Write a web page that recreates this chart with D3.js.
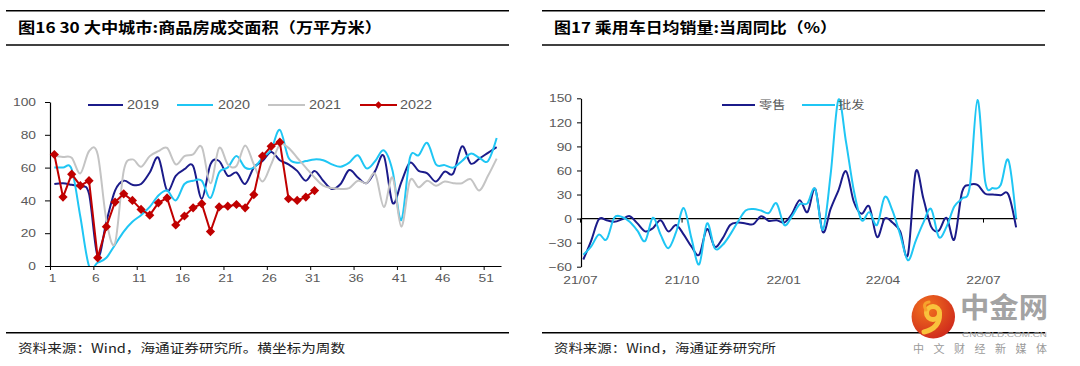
<!DOCTYPE html>
<html><head><meta charset="utf-8">
<script src="https://cdn.jsdelivr.net/npm/d3@7"></script>
<style>
body{margin:0;background:#fff;}
svg{display:block;}
</style></head><body>
<svg id="c" width="1080" height="366"></svg>
<script>
// ---------- DATA: left chart (weeks) ----------
const weeks = d3.range(1, 53);
const s2019 = [50,50.5,49.5,48.5,44,6,27,46,52,49.5,50,57,66,46,55,59,61,41,62,64,55,57,50,60,64,69.5,64.5,62,58,52,58,52,47,50,58.5,54,50.5,58,67,38.5,51,63,58,56.5,51.5,57.5,56.5,73,62.5,65.5,69,72.5];
const s2020 = [60,60,59,30,0,2,5,13,21,27,31,36,43,46,40,50,52,52,41.5,57,60,67,60,60,66,71,83,66,63,64,65,64.5,62,60.5,63,67.5,59.5,64,70.5,58,28,66,67.5,75,62,61.5,60,64,68.5,66,64,78];
const s2021 = [67,66.5,66,56.5,70,68,28,14,58,65,60.5,67,70,72,62,67,68,72.5,50.5,72,62,61,73.5,62,51.5,62,74,72,66,60,54,49,47.5,47,47.5,52,50.5,56,36,54,24,52,48,52,49,51.5,50.5,50.5,53,46,55,65.5];
const s2022 = [68,42,56,49,52,5,24,39,44,40,34.5,31,38.5,41.5,25,30.5,35.5,38,21,36,36.5,37.5,35.5,43.5,67,73,75.5,41,40,42,46];
const seriesNamesL = ["2019","2020","2021","2022"];
const colorsL = ["#1b1b8a","#1fc6f4","#c4c4c4","#c00000"];
const yTicksL = [0,20,40,60,80,100];
const xTickWeeks = [1,6,11,16,21,26,31,36,41,46,51];

// ---------- DATA: right chart (weekly YoY %) ----------
const firstDate = "2021-07-04";
const retail = [-51,-28,-1,-2,-4,-1,3,-6,-16,-12,-2,-16,-8,-20,-35,-45,-13,-35,-25,-8,-5,-6,-7,3,-3,-2,-5,6,23,8,37,-17,12,35,59,21,6,15,-23,0,-5,-16,-45,58,25,-10,-15,1,-26,33,42,42,31,30,29,30,-11];
const wholesale = [-45,-35,-20,-26,1,2,-4,-15,-28,1,-20,-37,-17,13,-25,-57,-6,-37,-33,-20,-4,10,12,10,7,19,-8,3,18,19,37,-14,55,148,95,35,-2,8,-8,27,10,-20,-52,-28,-5,12,-23,-10,15,25,40,148,46,38,42,73,0];
const seriesNamesR = ["零售","批发"];
const colorsR = ["#1b1b8a","#1fc6f4"];
const yTicksR = [-60,-30,0,30,60,90,120,150];
const xTickDatesR = ["2021-07-01","2021-10-01","2022-01-01","2022-04-01","2022-07-01"];

const svg = d3.select("#c");
const SX = 1.2; // horizontal text stretch
const tickFont = "'Liberation Sans', Arial, sans-serif";
const cjk = "'Noto Sans CJK SC', sans-serif";

function stretchText(sel, x, y){
  sel.attr("transform", `translate(${x},${y}) scale(${SX},1)`);
}

// ---------- frames: titles & sources ----------
function frame(x0, x1, title, titleLen, source, sourceLen){
  svg.append("line").attr("x1",x0).attr("x2",x1).attr("y1",10.7).attr("y2",10.7).attr("stroke","#000").attr("stroke-width",1.6);
  svg.append("line").attr("x1",x0).attr("x2",x1).attr("y1",45).attr("y2",45).attr("stroke","#000").attr("stroke-width",1.6);
  svg.append("line").attr("x1",x0).attr("x2",x1).attr("y1",332.7).attr("y2",332.7).attr("stroke","#000").attr("stroke-width",1.6);
  svg.append("text").attr("x",x0+12).attr("y",33).attr("font-family",cjk).attr("font-weight","bold")
    .attr("font-size",14.5).attr("fill","#000").attr("textLength",titleLen).attr("lengthAdjust","spacingAndGlyphs").text(title);
  svg.append("text").attr("x",x0+12).attr("y",353).attr("font-family",cjk)
    .attr("font-size",12.5).attr("fill","#222").attr("textLength",sourceLen).attr("lengthAdjust","spacingAndGlyphs").text(source);
}
frame(6, 509, "图16 30 大中城市:商品房成交面积（万平方米）", 364, "资料来源：Wind，海通证券研究所。横坐标为周数", 327);
frame(542, 1045, "图17 乘用车日均销量:当周同比（%）", 283, "资料来源：Wind，海通证券研究所", 222);

// ---------- LEFT CHART ----------
const xL = d3.scaleLinear().domain([0.5, 52.5]).range([50, 501]);
const yL = d3.scaleLinear().domain([0, 100]).range([266, 102]);
const gL = svg.append("g");

svg.append("defs").append("clipPath").attr("id","clipL")
  .append("rect").attr("x",40).attr("y",90).attr("width",470).attr("height",yL(0)-90);

const axL = gL.append("g").attr("transform","translate(50,0)")
  .call(d3.axisLeft(yL).tickValues(yTicksL).tickSize(5).tickSizeOuter(0));
axL.select(".domain").attr("stroke","#000").attr("stroke-width",1.2);
axL.selectAll(".tick line").attr("stroke","#000");
axL.selectAll("text").attr("font-family",tickFont).attr("font-size",11.5).attr("fill","#595959")
  .attr("x",-14/SX).attr("transform",`scale(${SX},1)`);

const axLb = gL.append("g").attr("transform","translate(0,266)")
  .call(d3.axisBottom(xL).tickValues(xTickWeeks.map(w => w - 0.5)).tickFormat(d => d + 0.5).tickSize(4).tickSizeOuter(0));
axLb.select(".domain").attr("stroke","#000").attr("stroke-width",1.2);
axLb.selectAll(".tick line").attr("stroke","#000");
axLb.selectAll("text").attr("font-family",tickFont).attr("font-size",11.5).attr("fill","#595959")
  .attr("y",15.8).attr("dy",0).attr("x",2/SX).attr("transform",`scale(${SX},1)`);

const plotL = gL.append("g").attr("clip-path","url(#clipL)");
const smooth = d3.line().x((d,i)=>xL(weeks[i])).y(d=>yL(d)).curve(d3.curveCatmullRom.alpha(0));
[s2019, s2020, s2021].forEach((s, k) => {
  plotL.append("path").attr("d", smooth(s)).attr("fill","none").attr("stroke",colorsL[k]).attr("stroke-width",2);
});
const straight = d3.line().x((d,i)=>xL(weeks[i])).y(d=>yL(d));
gL.append("path").attr("d", straight(s2022)).attr("fill","none").attr("stroke",colorsL[3]).attr("stroke-width",2);
const diamond = "M0,-4.6L4.6,0L0,4.6L-4.6,0Z";
gL.selectAll(".dm").data(s2022).enter().append("path").attr("class","dm")
  .attr("d", diamond).attr("fill",colorsL[3])
  .attr("transform",(d,i)=>`translate(${xL(weeks[i])},${yL(d)})`);

// legend left
const legL = [[88,123,127],[177,213,218],[268,305,309],[360,397,400]];
seriesNamesL.forEach((n,k)=>{
  const [a,b,t] = legL[k];
  gL.append("line").attr("x1",a).attr("x2",b).attr("y1",105).attr("y2",105).attr("stroke",colorsL[k]).attr("stroke-width",2);
  if(k===3) gL.append("path").attr("d",diamond).attr("fill",colorsL[3]).attr("transform",`translate(${(a+b)/2},105) scale(0.8)`);
  const tx = gL.append("text").attr("font-family",tickFont).attr("font-size",12).attr("fill","#595959").text(n);
  stretchText(tx, t, 109.3);
});

// ---------- RIGHT CHART ----------
const parse = d3.timeParse("%Y-%m-%d");
const d0 = parse(firstDate);
const datesR = retail.map((d,i)=>d3.timeDay.offset(d0, 7*i));
const xR = d3.scaleTime().domain([parse("2021-07-01"), parse("2022-07-01")]).range([580, 983]);
const yR = d3.scaleLinear().domain([-60, 150]).range([266.7, 98.3]);
const gR = svg.append("g");

const axR = gR.append("g").attr("transform","translate(581,0)")
  .call(d3.axisLeft(yR).tickValues(yTicksR).tickSize(4).tickSizeOuter(0));
axR.select(".domain").attr("stroke","#000").attr("stroke-width",1.2);
axR.selectAll(".tick line").attr("stroke","#000");
axR.selectAll("text").attr("font-family",tickFont).attr("font-size",11.5).attr("fill","#595959")
  .attr("x",-9/SX).attr("transform",`scale(${SX},1)`);

// zero line with ticks
const tickDates = xTickDatesR.map(parse);
gR.append("line").attr("x1",581).attr("x2",xR(datesR[datesR.length-1])+1).attr("y1",yR(0)).attr("y2",yR(0)).attr("stroke","#000").attr("stroke-width",1.2);
const axZ = gR.append("g").attr("transform",`translate(0,${yR(0)})`)
  .call(d3.axisBottom(xR).tickValues(tickDates).tickSize(4).tickFormat(""));
axZ.select(".domain").remove();
axZ.selectAll(".tick line").attr("stroke","#000");

const axRb = gR.append("g").attr("transform",`translate(0,${yR(-60)})`)
  .call(d3.axisBottom(xR).tickValues(tickDates).tickSize(0).tickFormat(d3.timeFormat("%y/%m")));
axRb.select(".domain").remove();
axRb.selectAll("text").attr("font-family",tickFont).attr("font-size",11.5).attr("fill","#595959")
  .attr("y",17.5).attr("dy",0).attr("transform",`scale(${SX},1)`);

const lineR = d3.line().x((d,i)=>xR(datesR[i])).y(d=>yR(d)).curve(d3.curveCatmullRom.alpha(0));
[retail, wholesale].forEach((s,k)=>{
  gR.append("path").attr("d", lineR(s)).attr("fill","none").attr("stroke",colorsR[k]).attr("stroke-width",2);
});

// legend right
const legR = [[722,755,759],[802,835,838]];
seriesNamesR.forEach((n,k)=>{
  const [a,b,t] = legR[k];
  gR.append("line").attr("x1",a).attr("x2",b).attr("y1",105).attr("y2",105).attr("stroke",colorsR[k]).attr("stroke-width",2);
  const tx = gR.append("text").attr("font-family",cjk).attr("font-size",11).attr("fill","#595959").text(n);
  stretchText(tx, t, 109);
});

// ---------- watermark ----------
const defs = svg.append("defs");
const rg = defs.append("radialGradient").attr("id","lg").attr("cx","35%").attr("cy","30%").attr("r","75%");
rg.append("stop").attr("offset","0%").attr("stop-color","#f2731e");
rg.append("stop").attr("offset","100%").attr("stop-color","#cf2a1c");
const wm = svg.append("g");
wm.append("circle").attr("cx",933.3).attr("cy",316.7).attr("r",21.7).attr("fill","url(#lg)");
wm.append("circle").attr("cx",933).attr("cy",313).attr("r",6.5).attr("fill","none").attr("stroke","#f9c23c").attr("stroke-width",5);
wm.append("path").attr("d","M939.5,314 Q940,328 924,332").attr("fill","none").attr("stroke","#f9c23c").attr("stroke-width",5).attr("stroke-linecap","round");
wm.append("path").attr("d","M926,310 Q922,303 929,302").attr("fill","none").attr("stroke","#f6a32c").attr("stroke-width",3).attr("stroke-linecap","round");
wm.append("text").attr("x",960).attr("y",318).attr("font-family",cjk).attr("font-weight","bold").attr("font-size",28)
  .attr("fill","#a3a3a3").attr("textLength",88).attr("lengthAdjust","spacingAndGlyphs").text("中金网");
wm.append("text").attr("x",962).attr("y",336.5).attr("font-family",tickFont).attr("font-size",7.2)
  .attr("fill","#a3a3a3").attr("textLength",85).attr("lengthAdjust","spacingAndGlyphs").text("CNGOLD.COM.CN");
wm.append("text").attr("x",913).attr("y",353).attr("font-family",cjk).attr("font-size",11)
  .attr("fill","#9a9a9a").attr("textLength",134).attr("lengthAdjust","spacing").text("中文财经新媒体");
</script>
</body></html>
